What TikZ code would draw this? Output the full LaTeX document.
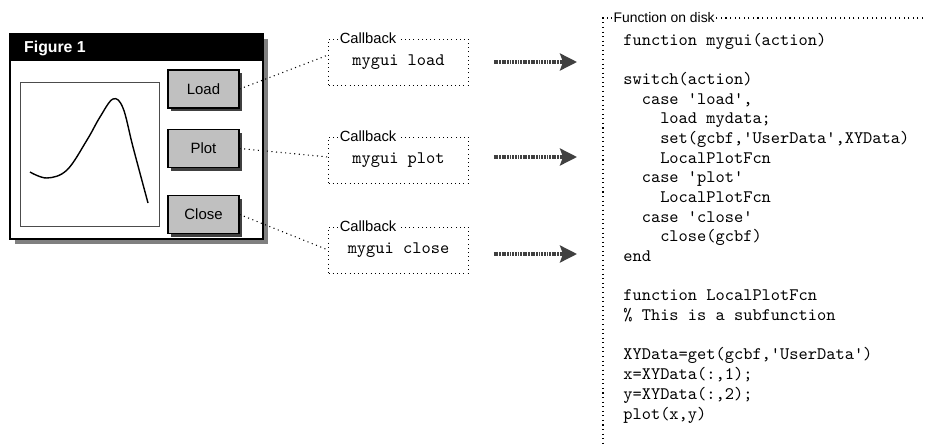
\documentclass[tikz,border=0pt]{standalone}
\usepackage{fontspec}
\setmainfont{Liberation Sans}
\usepackage{tikz}
\usetikzlibrary{arrows.meta, shadows, positioning}

\definecolor{btngray}{HTML}{C0C0C0}
\definecolor{darkshadow}{HTML}{404040}
\definecolor{winshadow}{HTML}{808080}
\newcommand{\codefont}{\ttfamily\fontsize{10}{11.2}\selectfont}
\newcommand{\sq}{\textquotesingle}
\newcommand{\codeind}{\hphantom{xx}}

\begin{document}
\begin{tikzpicture}[
  win/.style={draw, line width=1.2pt, fill=white, minimum width=5.06cm, minimum height=4.1cm,
              drop shadow={shadow xshift=0.1cm, shadow yshift=-0.1cm, fill=winshadow, opacity=1}},
  btn/.style={draw, line width=0.7pt, fill=btngray, minimum width=1.42cm, minimum height=0.76cm,
              font=\fontsize{8.5}{10}\selectfont,
              drop shadow={shadow xshift=0.06cm, shadow yshift=-0.06cm, fill=darkshadow, opacity=1}},
  cbbox/.style={draw, dotted, minimum width=2.8cm, minimum height=0.92cm, font=\codefont},
  legend/.style={fill=white, inner sep=1pt, anchor=west, font=\fontsize{8.4}{10}\selectfont},
  link/.style={dotted, line width=0.6pt},
  fetch/.style={draw=darkshadow, line width=1.8pt, dash pattern=on 1pt off 0.5pt,
                -{Stealth[length=0.34cm, width=0.34cm, inset=0.06cm, fill=darkshadow]}}
]
\useasboundingbox (0,0) rectangle (18.5,-8.86);

% figure window
\node[win] (fig) at (2.73,-2.73) {};
\fill (fig.north west) rectangle ([yshift=-0.56cm]fig.north east);
\node[anchor=west, text=white, font=\bfseries\fontsize{9}{10}\selectfont] (title) at (0.36,-0.96) {Figure 1};
\draw[black!70, line width=0.5pt] (0.4,-1.64) rectangle (3.18,-4.52);
\draw[line width=0.8pt] plot[smooth, tension=0.6] coordinates {(0.6,-3.44) (0.94,-3.56) (1.34,-3.4)
  (1.74,-2.8) (2.0,-2.34) (2.26,-1.98) (2.46,-2.16) (2.66,-2.94) (2.96,-4.06)};

\node[btn] (load)  at (4.07,-1.78) {Load};
\node[btn] (plot)  at (4.07,-2.97) {Plot};
\node[btn] (close) at (4.07,-4.29) {Close};

% callbacks
\node[cbbox] (cbload)  at (7.97,-1.24) {mygui load};
\node[cbbox] (cbplot)  at (7.97,-3.2)  {mygui plot};
\node[cbbox] (cbclose) at (7.97,-5.0)  {mygui close};
\node[legend] at ([xshift=0.19cm]cbload.north west)  {Callback};
\node[legend] at ([xshift=0.19cm]cbplot.north west)  {Callback};
\node[legend] at ([xshift=0.19cm]cbclose.north west) {Callback};

\draw[link] (load.east)  -- ([yshift=0.14cm]cbload.west);
\draw[link] (plot.east)  -- ([yshift=0.06cm]cbplot.west);
\draw[link] (close.east) -- (cbclose.west);

% function on disk
\coordinate (disk) at (12.06,-0.36);
\draw[dotted, line width=0.6pt] (18.46,-0.36) -- (disk) -- (12.06,-8.86);
\node[legend, font=\fontsize{7.9}{10}\selectfont] at ([xshift=0.17cm]disk) {Function on disk};

\draw[fetch] ([xshift=0.5cm]cbload.east) -- ([xshift=-0.52cm]cbload.east -| disk);
\draw[fetch] ([xshift=0.5cm, yshift=0.06cm]cbplot.east) -- ([xshift=-0.52cm, yshift=0.06cm]cbplot.east -| disk);
\draw[fetch] ([xshift=0.5cm, yshift=-0.08cm]cbclose.east) -- ([xshift=-0.52cm, yshift=-0.08cm]cbclose.east -| disk);

\node[anchor=north west, inner sep=0pt, align=left, font=\codefont] (code) at (12.46,-0.65) {%
function mygui(action)\\[11.2pt]
switch(action)\\
\codeind case \sq load\sq,\\
\codeind\codeind load mydata;\\
\codeind\codeind set(gcbf,\sq UserData\sq,XYData)\\
\codeind\codeind LocalPlotFcn\\
\codeind case \sq plot\sq\\
\codeind\codeind LocalPlotFcn\\
\codeind case \sq close\sq\\
\codeind\codeind close(gcbf)\\
end\\[11.2pt]
function LocalPlotFcn\\
\% This is a subfunction\\[11.2pt]
XYData=get(gcbf,\sq UserData\sq)\\
x=XYData(:,1);\\
y=XYData(:,2);\\
plot(x,y)};
\end{tikzpicture}
\end{document}
